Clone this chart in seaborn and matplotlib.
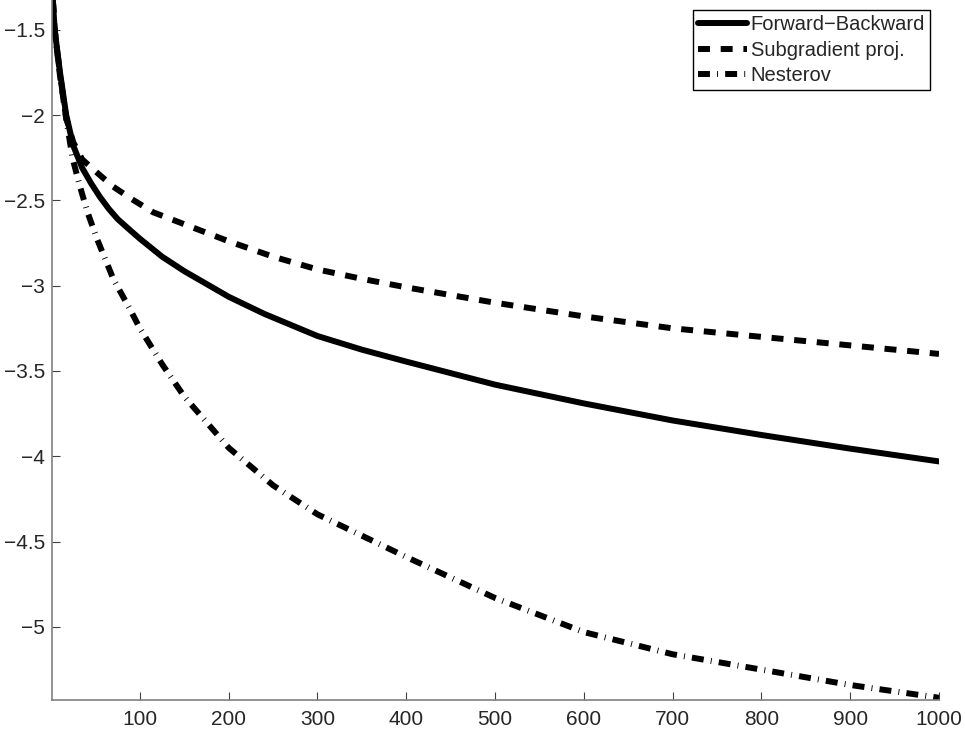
import matplotlib
matplotlib.use("Agg")
import matplotlib.pyplot as plt
import pandas as pd
import seaborn as sns

# iterations and log-scale objective values
fb_iter = [2, 4, 10, 17, 25, 35, 45, 55, 65, 75, 89, 100, 125, 150, 200, 240, 300, 350, 400, 500, 600,
           700, 800, 900, 1000]
forward_backward = [-1.33, -1.50, -1.75, -2.00, -2.18, -2.31, -2.40, -2.48, -2.55, -2.61, -2.675, -2.725,
                    -2.83, -2.915, -3.065, -3.165, -3.295, -3.375, -3.445, -3.58, -3.69, -3.79, -3.875,
                    -3.955, -4.03]
sg_iter = [2, 4, 10, 17, 25, 35, 50, 70, 90, 115, 150, 200, 250, 300, 350, 400, 500, 600, 700, 800, 900, 1000]
subgradient = [-1.33, -1.50, -1.77, -2.02, -2.16, -2.26, -2.33, -2.42, -2.49, -2.57, -2.64, -2.74,
               -2.83, -2.905, -2.96, -3.01, -3.10, -3.18, -3.25, -3.30, -3.35, -3.40]
nv_iter = [2, 4, 10, 17, 24, 32, 41, 52, 70, 89, 100, 125, 150, 200, 250, 300, 400, 500, 600, 700, 800, 900, 1000]
nesterov = [-1.33, -1.50, -1.76, -2.02, -2.25, -2.41, -2.57, -2.73, -2.96, -3.14, -3.25, -3.46, -3.65,
            -3.95, -4.17, -4.34, -4.59, -4.83, -5.03, -5.16, -5.25, -5.34, -5.415]
labels = ["Forward\u2212Backward", "Subgradient proj.", "Nesterov"]

x_ticks = [100, 200, 300, 400, 500, 600, 700, 800, 900, 1000]
y_ticks = [-5, -4.5, -4, -3.5, -3, -2.5, -2, -1.5]
y_ticklabels = ["\u22125", "\u22124.5", "\u22124", "\u22123.5", "\u22123", "\u22122.5", "\u22122", "\u22121.5"]

sns.set_style("white")
plt.rcParams['font.family'] = ['Liberation Sans', 'DejaVu Sans']

fig = plt.figure(figsize=(9.65, 7.33), dpi=100)
ax = fig.add_axes([52 / 965, 33 / 733, 887 / 965, 700 / 733])

lw = 4.3
dash_styles = [None, (2.0, 1.8), (2.0, 1.2, 0.15, 1.2)]
series = [(fb_iter, forward_backward), (sg_iter, subgradient), (nv_iter, nesterov)]
for (xs, ys), lab, dsh in zip(series, labels, dash_styles):
    df = pd.DataFrame({"iter": xs, "val": ys})
    sns.lineplot(data=df, x="iter", y="val", ax=ax, color="black", linewidth=lw,
                 label=lab, legend=False)
    line = ax.lines[-1]
    line.set_solid_joinstyle("round")
    if dsh is not None:
        line.set_dashes(dsh)
        line.set_dash_capstyle("butt")

ax.set_xlim(1, 1000)
ax.set_ylim(-5.428, -1.326)
ax.set_xticks(x_ticks)
ax.set_yticks(y_ticks)
ax.set_yticklabels(y_ticklabels)
ax.set_xlabel("")
ax.set_ylabel("")

for side in ["top", "right"]:
    ax.spines[side].set_visible(False)
for side in ["left", "bottom"]:
    ax.spines[side].set_color("#808080")
    ax.spines[side].set_linewidth(1.2)
ax.tick_params(direction="in", length=6, width=0.8, color="#404040",
               labelsize=15, pad=5, left=True, bottom=True)
ax.tick_params(axis="x", pad=7)

leg = ax.legend(loc="upper right", bbox_to_anchor=(930 / 965, 1 - 10 / 733),
                bbox_transform=fig.transFigure, borderaxespad=0, fancybox=False,
                framealpha=1, edgecolor="black", fontsize=14.5, handlelength=2.4,
                handletextpad=0.2, borderpad=0.25, labelspacing=0.33)
leg.get_frame().set_linewidth(1.0)

fig.savefig("out.png", dpi=100)
